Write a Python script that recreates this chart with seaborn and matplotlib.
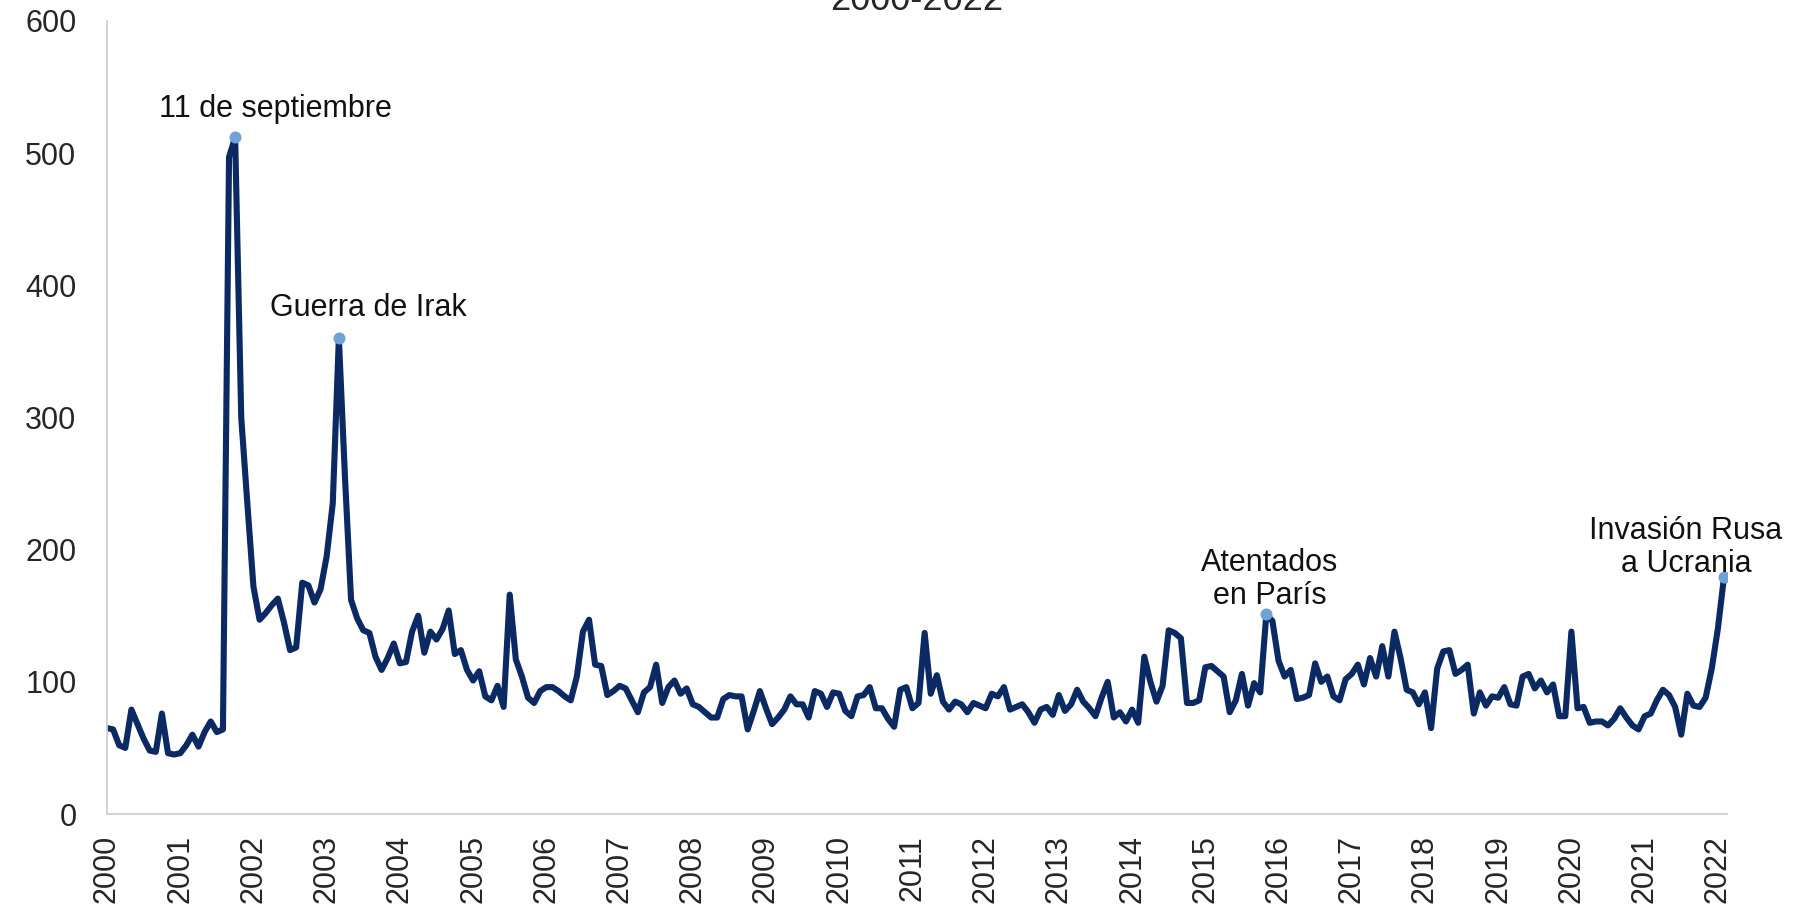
import seaborn as sns
import matplotlib.pyplot as plt
import pandas as pd

# monthly index, Jan 2000 - Feb 2022
values = [65, 64, 52, 50, 79, 68, 57, 48, 47, 76, 46, 45,
          46, 52, 60, 51, 62, 70, 62, 64, 497, 512, 300, 235,
          172, 147, 152, 158, 163, 145, 124, 126, 175, 173, 160, 170,
          195, 235, 360, 255, 162, 148, 139, 137, 119, 109, 118, 129,
          114, 115, 138, 150, 122, 138, 132, 140, 154, 121, 124, 109,
          101, 108, 89, 86, 97, 81, 166, 117, 104, 88, 84, 93,
          96, 96, 93, 89, 86, 104, 138, 147, 113, 112, 90, 93,
          97, 95, 86, 77, 92, 96, 113, 84, 96, 101, 91, 95,
          83, 81, 77, 73, 73, 87, 90, 89, 89, 64, 78, 93,
          80, 68, 73, 79, 89, 83, 83, 73, 93, 91, 81, 92,
          91, 78, 74, 89, 90, 96, 80, 80, 72, 66, 94, 96,
          80, 84, 137, 91, 105, 85, 79, 85, 83, 77, 84, 82,
          80, 91, 89, 96, 79, 81, 83, 77, 69, 79, 81, 75,
          90, 78, 83, 94, 85, 80, 74, 88, 100, 73, 77, 70,
          79, 69, 119, 100, 85, 97, 139, 137, 133, 84, 84, 86,
          111, 112, 108, 104, 77, 86, 106, 82, 99, 92, 151, 146,
          116, 104, 109, 87, 88, 90, 114, 100, 104, 89, 86, 102,
          106, 113, 98, 118, 104, 127, 104, 138, 118, 94, 92, 83,
          92, 65, 110, 123, 124, 106, 109, 113, 76, 92, 82, 89,
          88, 96, 83, 82, 104, 106, 95, 101, 92, 98, 74, 74,
          138, 80, 81, 69, 70, 70, 67, 72, 80, 73, 67, 64,
          74, 76, 86, 94, 90, 81, 60, 91, 82, 81, 88, 110,
          140, 179]
years = list(range(2000, 2023))

events = ['11 de septiembre', 'Guerra de Irak', 'Atentados\nen París', 'Invasión Rusa\na Ucrania']
event_months = [21, 38, 190, 265]

df = pd.DataFrame({'month': range(len(values)), 'index': values})

sns.set_style('white')
plt.rcParams['font.family'] = ['Liberation Sans', 'DejaVu Sans']

W, H = 1806, 906
fig = plt.figure(figsize=(W / 100, H / 100), dpi=100)
ax = fig.add_axes([107 / W, 1 - 814 / H, 1620 / W, 793 / H])

sns.lineplot(data=df, x='month', y='index', color='#0b2a63', linewidth=4.4, ax=ax)
ax.lines[0].set_solid_joinstyle('round')

# highlighted events
ev_vals = [values[m] for m in event_months]
ax.scatter(event_months, ev_vals, s=75, color='#6fa3d8', zorder=3, linewidths=0)

offsets = [(40, 28), (29, 30), (3, 35), (-38, 30)]
for lab, m, v, off in zip(events, event_months, ev_vals, offsets):
    ax.annotate(lab, (m, v), xytext=off, textcoords='offset pixels',
                ha='center', va='center', fontsize=22, linespacing=1.1,
                color='#111111')

ax.set_xlim(0, 265.5)
ax.set_ylim(0, 600)
ax.set_xticks([12 * i for i in range(len(years))])
ax.set_xticklabels(years, rotation=90)
ax.set_yticks(range(0, 601, 100))
ax.tick_params(axis='x', length=0, pad=15, labelsize=22)
ax.tick_params(axis='y', length=9, width=1.2, color='#c8c8c8', pad=13, labelsize=22)
ax.set_xlabel('')
ax.set_ylabel('')
sns.despine(ax=ax)
for s in ['left', 'bottom']:
    ax.spines[s].set_color('#d0d0d0')
    ax.spines[s].set_linewidth(1.3)

fig.text(917 / W, 1 - 10 / H, '2000-2022', ha='center', va='baseline', fontsize=26)

fig.savefig('out.png', dpi=100)
